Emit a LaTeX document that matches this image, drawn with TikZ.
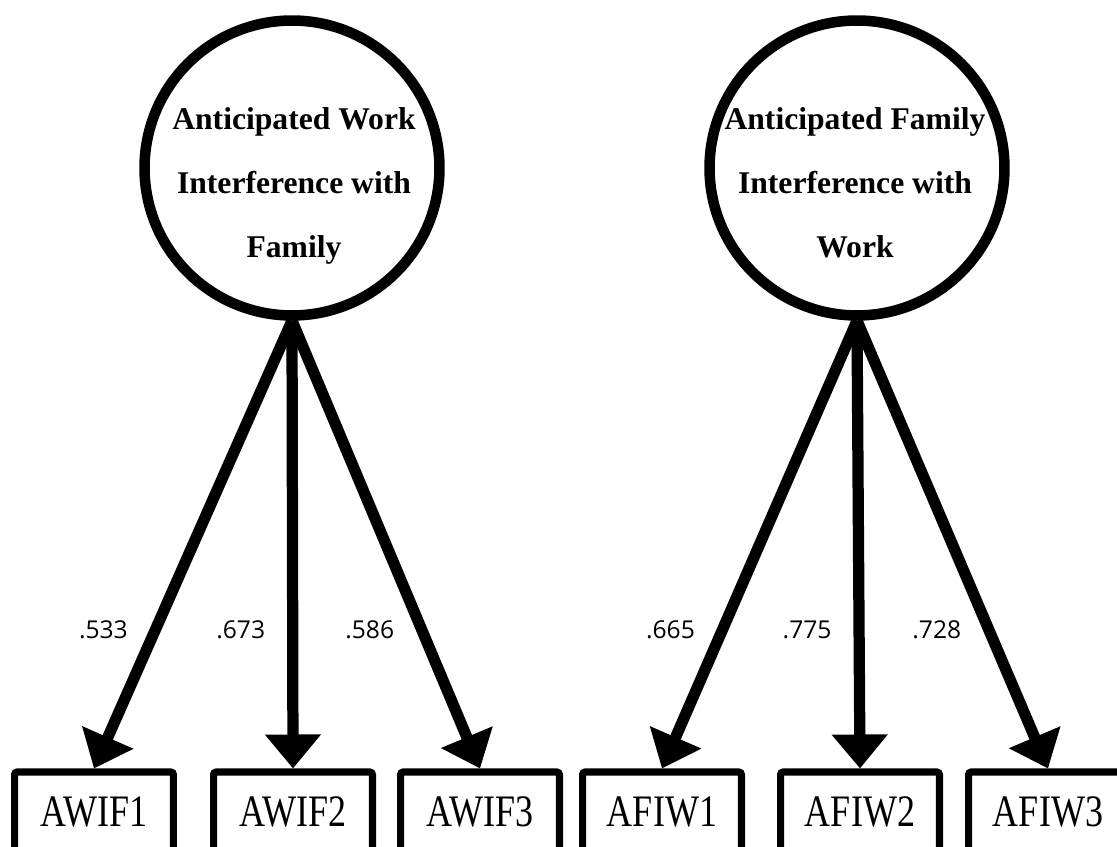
\documentclass[tikz,border=0pt]{standalone}
\usepackage{fontspec}
\setmainfont{Liberation Serif}
\newfontfamily\coeffont{Open Sans}
\usetikzlibrary{arrows.meta}

\newcommand\itemtext[1]{\scalebox{1}[1.25]{#1}}

\begin{document}
\begin{tikzpicture}[x=0.02cm, y=-0.02cm, >={Triangle[length=0.68cm,width=1.08cm]},
  latent/.style={circle, draw, line width=6pt, minimum size=5.9cm, inner sep=0pt},
  latname/.style={align=center, font=\fontsize{18pt}{36.3pt}\selectfont\bfseries},
  indicator/.style={rectangle, draw, line width=4pt, rounded corners=1.5pt, minimum width=3.18cm,
    minimum height=1.6cm, inner sep=0pt, font=\fontsize{20.5pt}{24pt}\selectfont},
  loading/.style={->, line width=6.4pt},
  coef/.style={left=0.44cm, inner sep=0pt, font=\coeffont\fontsize{14pt}{16pt}\selectfont}]
  \useasboundingbox (0,0) rectangle (1117,847);
  \clip (0,0) rectangle (1117,847);

  % factors
  \node[latent] (awif) at (292,168) {};
  \node[latname] (awifname) at (294,186) {Anticipated Work\\Interference with\\Family};
  \node[latent] (afiw) at (857,168) {};
  \node[latname] (afiwname) at (855,183) {Anticipated Family\\Interference with\\Work};

  % items
  \node[indicator] (awif1) at (94,812) {\itemtext{AWIF1}};
  \node[indicator] (awif2) at (293,812) {\itemtext{AWIF2}};
  \node[indicator] (awif3) at (480,812) {\itemtext{AWIF3}};
  \node[indicator] (afiw1) at (662,812) {\itemtext{AFIW1}};
  \node[indicator] (afiw2) at (860,812) {\itemtext{AFIW2}};
  \node[indicator] (afiw3) at (1048,812) {\itemtext{AFIW3}};

  % loadings
  \draw[loading] (awif.south) -- node[coef, pos=0.69] (c533) {.533} (awif1.north);
  \draw[loading] (awif.south) -- node[coef, pos=0.69] (c673) {.673} (awif2.north);
  \draw[loading] (awif.south) -- node[coef, pos=0.69] (c586) {.586} (awif3.north);
  \draw[loading] (afiw.south) -- node[coef, pos=0.69] (c665) {.665} (afiw1.north);
  \draw[loading] (afiw.south) -- node[coef, pos=0.69] (c775) {.775} (afiw2.north);
  \draw[loading] (afiw.south) -- node[coef, pos=0.69] (c728) {.728} (afiw3.north);
\end{tikzpicture}
\end{document}
